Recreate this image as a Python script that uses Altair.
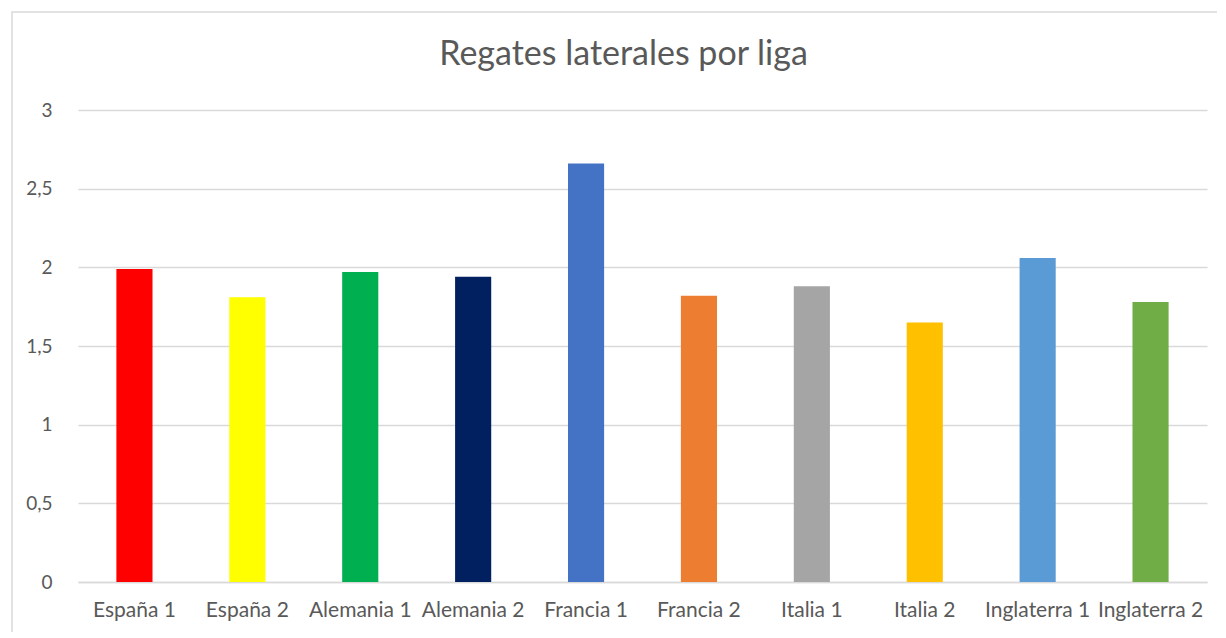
import altair as alt
import pandas as pd

ligas = ["España 1", "España 2", "Alemania 1", "Alemania 2", "Francia 1",
         "Francia 2", "Italia 1", "Italia 2", "Inglaterra 1", "Inglaterra 2"]
valores = [1.99, 1.81, 1.97, 1.94, 2.66, 1.82, 1.88, 1.65, 2.06, 1.78]
colores = ["#FF0000", "#FFFF00", "#00B050", "#002060", "#4472C4",
           "#ED7D31", "#A5A5A5", "#FFC000", "#5B9BD5", "#70AD47"]
y_ticks = [0, 0.5, 1, 1.5, 2, 2.5, 3]

df = pd.DataFrame({"liga": ligas, "valor": valores})

FONT = "Lato"
GREY = "#595959"

bars = alt.Chart(df).mark_bar().encode(
    x=alt.X("liga:N", sort=ligas,
            scale=alt.Scale(paddingInner=0.68, paddingOuter=0.34),
            axis=alt.Axis(title=None, labelAngle=0, ticks=False, domain=True,
                          domainColor="#d9d9d9", domainWidth=1.5,
                          labelOverlap=False, labelLimit=0, labelBound=False,
                          labelFlush=False, labelPadding=17, labelFontSize=21,
                          labelColor=GREY, labelFont=FONT)),
    y=alt.Y("valor:Q", scale=alt.Scale(domain=[0, 3], nice=False),
            axis=alt.Axis(title=None, values=y_ticks, ticks=False, domain=False,
                          grid=True, gridColor="#d9d9d9", gridWidth=1.5,
                          labelExpr="replace(format(datum.value, '~g'), '.', ',')",
                          labelPadding=26, labelFontSize=19, labelColor=GREY,
                          labelFont=FONT)),
    color=alt.Color("liga:N", sort=ligas,
                    scale=alt.Scale(domain=ligas, range=colores), legend=None),
)

border = alt.Chart(pd.DataFrame({"a": [0]})).mark_rect(
    fill=None, stroke="#d9d9d9", strokeWidth=1.5, clip=False
).encode(
    x=alt.value(-66), x2=alt.value(1300),
    y=alt.value(-98), y2=alt.value(700),
)

chart = alt.layer(border, bars).properties(
    width=1129, height=472,
    padding={"left": 70, "top": 102, "right": 10, "bottom": 50},
    autosize=alt.AutoSizeParams(type="none"),
    title=alt.TitleParams("Regates laterales por liga", fontSize=34,
                          font=FONT, fontWeight="normal", color=GREY,
                          anchor="middle", frame="group", baseline="alphabetic",
                          dx=-19, dy=88, offset=0),
).configure_view(stroke=None)

chart.save("out.html", embed_options={"renderer": "svg", "actions": False})
